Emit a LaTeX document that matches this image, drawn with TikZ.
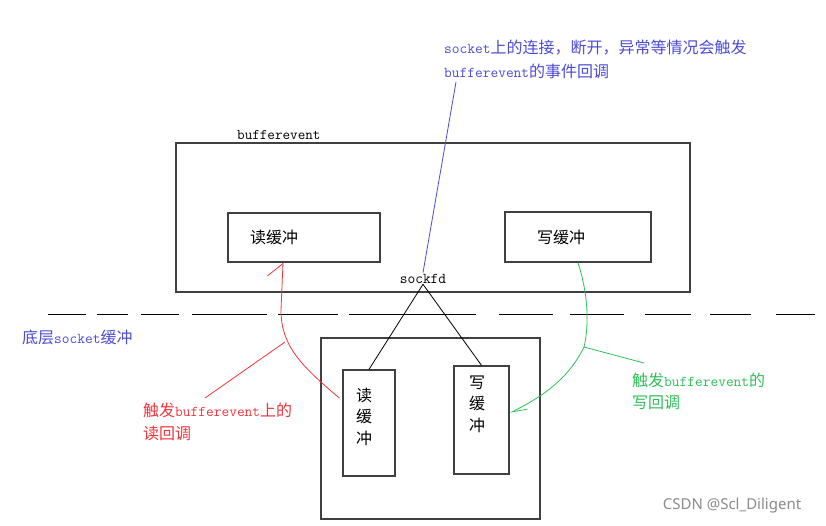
\documentclass[tikz,border=0pt]{standalone}
\usepackage{fontspec}
\newfontfamily\cjk{Noto Sans CJK SC}[Scale=1.0667]
\newfontfamily\wmfont{Noto Sans}
\usepackage{xcolor}
\usepackage{tikz}
\usetikzlibrary{arrows.meta, calc}
\definecolor{evblue}{HTML}{4B4BD6}
\definecolor{cbred}{HTML}{F0343C}
\definecolor{cbgreen}{HTML}{2DBE58}
\definecolor{boxgray}{HTML}{404040}
\definecolor{wmgray}{HTML}{8A8A8A}

\begin{document}
\begin{tikzpicture}[x=1pt, y=-1pt,
    box/.style={draw=boxgray, line width=1.3pt, inner sep=0pt},
    lbl/.style={inner sep=0pt, align=center, font=\cjk\fontsize{15}{21.5}\selectfont},
    note/.style={inner sep=0pt, align=left, anchor=north west, font=\ttfamily\fontsize{15}{23}\selectfont},
    wire/.style={line width=0.8pt}]
  \useasboundingbox (0,0) rectangle (826,525);

  % bufferevent with its two buffers
  \node[box, minimum width=514pt, minimum height=149pt] (bev) at (433,217.5) {};
  \node[inner sep=0pt, anchor=base west, font=\ttfamily\fontsize{14.7}{15}\selectfont] (bevname) at (237,139) {bufferevent};
  \node[box, minimum width=152pt, minimum height=49pt] (rdup) at (304,237.5) {};
  \node[box, minimum width=146pt, minimum height=50pt] (wrup) at (578,237) {};
  \node[lbl] (rduplbl) at (274,237) {读缓冲};
  \node[lbl] (wruplbl) at (561,237) {写缓冲};
  \node[inner sep=1pt, anchor=base, font=\ttfamily\fontsize{15}{15}\selectfont] (sockfd) at (423,283) {sockfd};

  % the socket line
  \foreach \a/\b in {48/86, 97/128, 141/179, 192/267, 278/338, 349/476, 499/553, 570/624, 645/691, 710/751, 776/815}
    \draw[wire] (\a,314) -- (\b,314);
  \node[inner sep=0pt, anchor=base west, text=evblue, font=\ttfamily\fontsize{15}{18}\selectfont] (lowlbl) at (22,343) {{\cjk 底层}socket{\cjk 缓冲}};

  % kernel side buffers
  \node[box, minimum width=219pt, minimum height=181pt] (sock) at (430.5,428.5) {};
  \node[box, minimum width=52pt, minimum height=106pt] (rdlow) at (369,423) {};
  \node[box, minimum width=55pt, minimum height=108pt] (wrlow) at (481.5,420) {};
  \node[lbl] (rdlowlbl) at (364,416.5) {读\\缓\\冲};
  \node[lbl] (wrlowlbl) at (477,404) {写\\缓\\冲};
  \draw[wire] (sockfd.south) -- (rdlow.north);
  \draw[wire] (sockfd.south) -- (wrlow.north);

  % event callback
  \node[note, text=evblue, font=\ttfamily\fontsize{15}{24}\selectfont] (evtxt) at (444,40)
    {socket{\cjk 上的连接，断开，异常等情况会触发}\\bufferevent{\cjk 的事件回调}};
  \coordinate (evtop) at (456,82);
  \draw[wire, evblue] (evtop) -- (sockfd.north);

  % read callback
  \node[note, text=cbred] (rdtxt) at (143,403) {{\cjk 触发}bufferevent{\cjk 上的}\\{\cjk 读回调}};
  \draw[wire, cbred, -{Straight Barb[harpoon, length=13pt, width=30pt]}]
    ($(rdlow.west)+(-3,-25)$) .. controls (300,365) and (281,345) .. (281,310) -- ($(rdup.south)+(-21,0)$);
  \coordinate (rdfoot) at (205,398);
  \coordinate (rdhit) at (285,342);
  \draw[wire, cbred] (rdfoot) -- (rdhit);

  % write callback
  \node[note, text=cbgreen, font=\ttfamily\fontsize{15}{21.5}\selectfont] (wrtxt) at (632,373) {{\cjk 触发}bufferevent{\cjk 的}\\{\cjk 写回调}};
  \coordinate (grknee) at (584,347);
  \coordinate (grfoot) at (644,363);
  \draw[wire, cbgreen, -{Straight Barb[harpoon, length=15pt, width=9pt]}]
    (wrup.south) .. controls (590,300) and (588,330) .. (grknee) .. controls (568,380) and (540,398) .. ($(wrlow.east)+(0,-7)$);
  \draw[wire, cbgreen] (grknee) -- (grfoot);

  \node[inner sep=0pt, text=wmgray, font=\wmfont\fontsize{15}{18}\selectfont] (wm) at (732,506) {CSDN @Scl\_Diligent};
\end{tikzpicture}
\end{document}
